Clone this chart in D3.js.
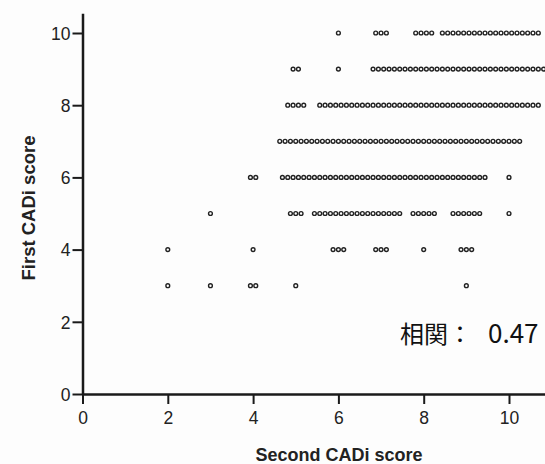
<!DOCTYPE html>
<html>
<head>
<meta charset="utf-8">
<script src="https://cdn.jsdelivr.net/npm/d3@7"></script>
<style>
  body { margin: 0; background: #fdfdfd; }
  svg { display: block; }
  .tick text { font-family: "Liberation Sans", Arial, sans-serif; font-size: 17.5px; fill: #222; }
  .axis-title { font-family: "Liberation Sans", Arial, sans-serif; font-weight: bold; fill: #222; }
</style>
</head>
<body>
<script>
// first CADi score of each row (y)
const rowScores = [10, 9, 8, 7, 6, 5, 4, 3];

// second CADi score of every dot, one list per row (x)
const row10 = [6, 6.875, 7, 7.125, 7.8125, 7.9375, 8.0625, 8.1875,
  8.4375, 8.5625, 8.6875, 8.8125, 8.9375, 9.0625, 9.1875, 9.3125, 9.4375, 9.5625,
  9.6875, 9.8125, 9.9375, 10.0625, 10.1875, 10.3125, 10.4375, 10.5625, 10.6875];
const row9 = [4.9375, 5.0625, 6,
  6.8125, 6.9375, 7.0625, 7.1875, 7.3125, 7.4375, 7.5625, 7.6875, 7.8125, 7.9375,
  8.0625, 8.1875, 8.3125, 8.4375, 8.5625, 8.6875, 8.8125, 8.9375, 9.0625, 9.1875,
  9.3125, 9.4375, 9.5625, 9.6875, 9.8125, 9.9375, 10.0625, 10.1875, 10.3125, 10.4375,
  10.5625, 10.6875, 10.8125, 10.9375];
const row8 = [4.8125, 4.9375, 5.0625, 5.1875,
  5.5625, 5.6875, 5.8125, 5.9375, 6.0625, 6.1875, 6.3125, 6.4375, 6.5625, 6.6875,
  6.8125, 6.9375, 7.0625, 7.1875, 7.3125, 7.4375, 7.5625, 7.6875, 7.8125, 7.9375,
  8.0625, 8.1875, 8.3125, 8.4375, 8.5625, 8.6875, 8.8125, 8.9375, 9.0625, 9.1875,
  9.3125, 9.4375, 9.5625, 9.6875, 9.8125, 9.9375, 10.0625, 10.1875, 10.3125, 10.4375,
  10.5625, 10.6875];
const row7 = [4.625, 4.75, 4.875, 5, 5.125, 5.25, 5.375, 5.5, 5.625, 5.75, 5.875,
  6, 6.125, 6.25, 6.375, 6.5, 6.625, 6.75, 6.875, 7, 7.125, 7.25, 7.375, 7.5, 7.625,
  7.75, 7.875, 8, 8.125, 8.25, 8.375, 8.5, 8.625, 8.75, 8.875, 9, 9.125, 9.25, 9.375,
  9.5, 9.625, 9.75, 9.875, 10, 10.125, 10.25];
const row6 = [3.9375, 4.0625,
  4.6875, 4.8125, 4.9375, 5.0625, 5.1875, 5.3125, 5.4375, 5.5625, 5.6875, 5.8125,
  5.9375, 6.0625, 6.1875, 6.3125, 6.4375, 6.5625, 6.6875, 6.8125, 6.9375, 7.0625,
  7.1875, 7.3125, 7.4375, 7.5625, 7.6875, 7.8125, 7.9375, 8.0625, 8.1875, 8.3125,
  8.4375, 8.5625, 8.6875, 8.8125, 8.9375, 9.0625, 9.1875, 9.3125, 9.4375, 10];
const row5 = [3, 4.875, 5, 5.125,
  5.4375, 5.5625, 5.6875, 5.8125, 5.9375, 6.0625, 6.1875, 6.3125, 6.4375, 6.5625,
  6.6875, 6.8125, 6.9375, 7.0625, 7.1875, 7.3125, 7.4375,
  7.75, 7.875, 8, 8.125, 8.25,
  8.6875, 8.8125, 8.9375, 9.0625, 9.1875, 9.3125, 10];
const row4 = [2, 4, 5.875, 6, 6.125, 6.875, 7, 7.125, 8, 8.875, 9, 9.125];
const row3 = [2, 3, 3.9375, 4.0625, 5, 9];

const rows = [row10, row9, row8, row7, row6, row5, row4, row3];

const xTicks = [0, 2, 4, 6, 8, 10];
const yTicks = [0, 2, 4, 6, 8, 10];
const corrLabel = "相関：";
const corrValue = "0.47";

const WIDTH = 545;
const HEIGHT = 464;

const svg = d3.select("body")
              .append("svg")
              .attr("width", WIDTH)
              .attr("height", HEIGHT);

const x = d3.scaleLinear().domain([0, 12]).range([82.5, 82.5 + 12 * 42.65]);
const y = d3.scaleLinear().domain([0, 10.55]).range([394, 394 - 10.55 * 36.1]);

// axes
const xAxis = svg.append("g")
                 .attr("transform", "translate(0," + y(0) + ")")
                 .call(d3.axisBottom(x).tickValues(xTicks).tickSize(10).tickSizeOuter(0).tickPadding(8));

const yAxis = svg.append("g")
                 .attr("transform", "translate(" + x(0) + ",0)")
                 .call(d3.axisLeft(y).tickValues(yTicks).tickSize(10).tickSizeOuter(0).tickPadding(2));

[xAxis, yAxis].forEach(a => {
  a.select(".domain").attr("stroke", "#1a1a1a").attr("stroke-width", 2.5);
  a.selectAll(".tick line").attr("stroke", "#1a1a1a").attr("stroke-width", 2);
});
yAxis.selectAll(".tick text").attr("dy", "0.36em");

// dots
const points = rows.flatMap((r, i) => r.map(v => ({x: v, y: rowScores[i]})));

svg.append("g")
   .selectAll("circle")
   .data(points)
   .join("circle")
   .attr("cx", d => x(d.x))
   .attr("cy", d => y(d.y))
   .attr("r", 1.9)
   .attr("fill", "white")
   .attr("stroke", "#222")
   .attr("stroke-width", 1.4);

// titles
svg.append("text")
   .attr("class", "axis-title")
   .attr("text-anchor", "middle")
   .attr("font-size", 18)
   .attr("x", 339)
   .attr("y", 461)
   .text("Second CADi score");

svg.append("text")
   .attr("class", "axis-title")
   .attr("text-anchor", "middle")
   .attr("font-size", 18.5)
   .attr("transform", "translate(35,208) rotate(-90)")
   .text("First CADi score");

// correlation note
const note = svg.append("text")
                .attr("x", 400)
                .attr("y", 343)
                .attr("font-family", "'Noto Sans CJK JP', sans-serif")
                .attr("font-size", 24)
                .attr("fill", "#111");
note.append("tspan").text(corrLabel);
note.append("tspan").attr("x", 488).attr("font-size", 26).text(corrValue);
</script>
</body>
</html>
